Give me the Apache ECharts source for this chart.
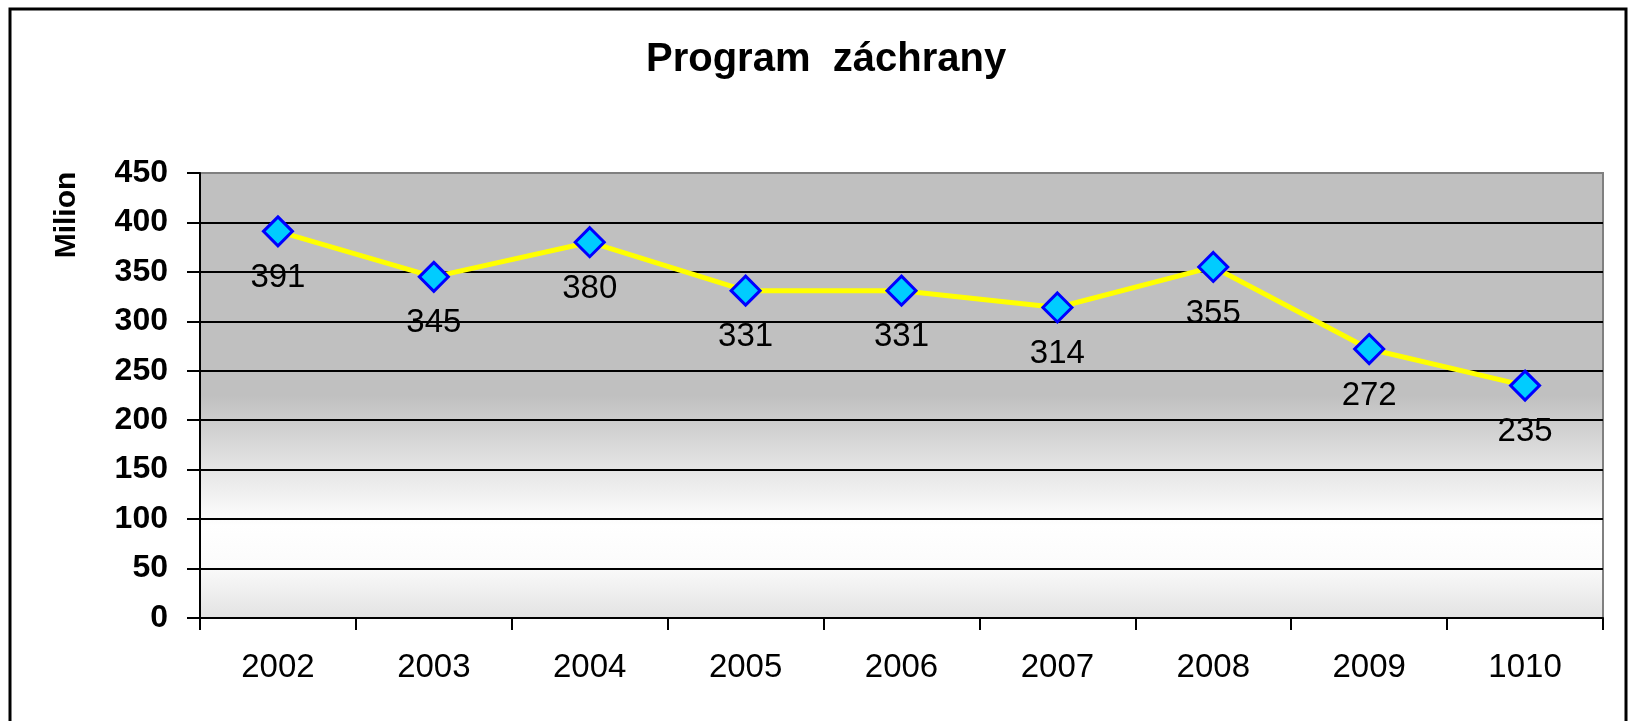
<!DOCTYPE html>
<html>
<head>
<meta charset="utf-8">
<script src="https://cdn.jsdelivr.net/npm/echarts@6/dist/echarts.min.js"></script>
<style>
  html, body { margin: 0; padding: 0; background: #fff; }
  #chart { width: 1629px; height: 721px; }
</style>
</head>
<body>
<div id="chart"></div>
<script>
// data
const years = ['2002', '2003', '2004', '2005', '2006', '2007', '2008', '2009', '1010'];
const values = [391, 345, 380, 331, 331, 314, 355, 272, 235];
const yTicks = { min: 0, max: 450, interval: 50 };

const FONT = '"Liberation Sans", Arial, sans-serif';

const chart = echarts.init(document.getElementById('chart'));

// plot background: grey on top, fading to white, then light grey at the bottom
const plotFill = new echarts.graphic.LinearGradient(0, 0, 0, 1, [
    { offset: 0, color: '#c0c0c0' },
    { offset: 0.5, color: '#c0c0c0' },
    { offset: 0.67, color: '#e6e6e6' },
    { offset: 0.79, color: '#ffffff' },
    { offset: 0.88, color: '#fbfbfb' },
    { offset: 1, color: '#e2e2e2' }
]);

chart.setOption({
    animation: false,
    title: {
        text: 'Program  záchrany',
        left: 641,
        top: 35,
        textStyle: { fontFamily: FONT, fontSize: 40, fontWeight: 'bold', color: '#000' }
    },
    grid: {
        left: 200, top: 173, right: 26, bottom: 103,
        show: true,
        backgroundColor: plotFill,
        borderColor: '#808080',
        borderWidth: 2
    },
    graphic: [
        {
            type: 'rect',
            shape: { x: 10, y: 9, width: 1616, height: 800 },
            style: { fill: 'none', stroke: '#000', lineWidth: 3 },
            z: 10
        },
        {
            type: 'text',
            x: 67, y: 215,
            rotation: Math.PI / 2,
            style: {
                text: 'Milion',
                font: 'bold 30px ' + FONT,
                fill: '#000',
                align: 'center',
                verticalAlign: 'middle'
            }
        }
    ],
    xAxis: {
        type: 'category',
        data: years,
        boundaryGap: true,
        axisLine: { lineStyle: { color: '#000', width: 2 } },
        axisTick: { show: true, length: 12, lineStyle: { color: '#000', width: 2 } },
        axisLabel: { margin: 33, color: '#000', fontFamily: FONT, fontSize: 33 },
        splitLine: { show: false }
    },
    yAxis: {
        type: 'value',
        min: yTicks.min,
        max: yTicks.max,
        interval: yTicks.interval,
        axisLine: { show: true, lineStyle: { color: '#000', width: 2 } },
        axisTick: { show: true, length: 13, lineStyle: { color: '#000', width: 2 } },
        axisLabel: { margin: 32, color: '#000', fontFamily: FONT, fontSize: 32, fontWeight: 'bold' },
        splitLine: { show: true, showMaxLine: false, lineStyle: { color: '#000', width: 2 } }
    },
    series: [{
        type: 'line',
        data: values,
        symbol: 'diamond',
        symbolSize: 29,
        lineStyle: { color: '#ffff00', width: 5 },
        itemStyle: { color: '#00ccff', borderColor: '#0000ff', borderWidth: 3 },
        label: {
            show: true,
            position: 'bottom',
            distance: 14,
            color: '#000',
            fontFamily: FONT,
            fontSize: 33
        },
        z: 5
    }]
});

window.addEventListener('resize', () => {
    chart.resize();
});
</script>
</body>
</html>
